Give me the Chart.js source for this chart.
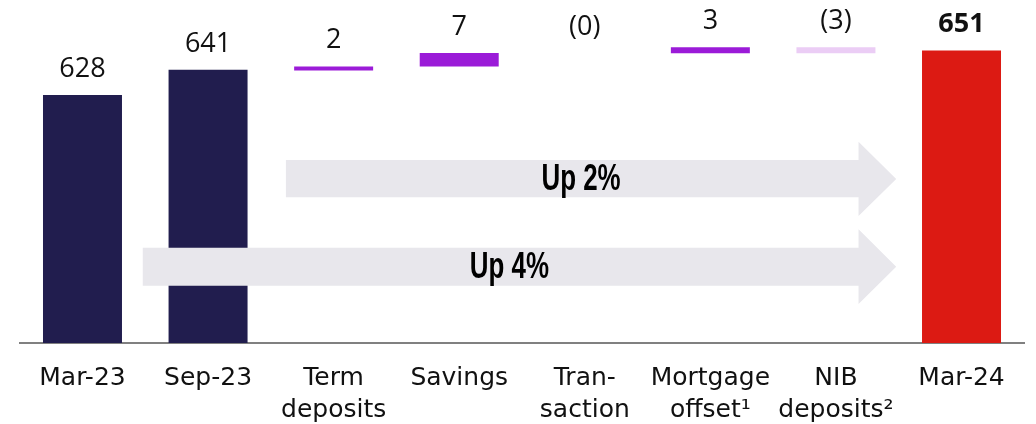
<!DOCTYPE html>
<html>
<head>
<meta charset="utf-8">
<script src="https://cdn.jsdelivr.net/npm/chart.js@4"></script>
<style>
  html, body { margin: 0; padding: 0; background: #ffffff; }
  #wrap { width: 1036px; height: 424px; }
</style>
</head>
<body>
<div id="wrap"><canvas id="c" width="1036" height="424"></canvas></div>
<script>
// ---- data ----
const categories = [['Mar-23'], ['Sep-23'], ['Term', 'deposits'], ['Savings'], ['Tran-', 'saction'], ['Mortgage', 'offset\u00B9'], ['NIB', 'deposits\u00B2'], ['Mar-24']];
const barStart = [500, 500, 640.6, 642.7, 649.7, 649.6, 652.6, 500];
const barEnd   = [628, 641, 642.7, 649.7, 649.7, 652.6, 649.6, 651];
const valueLabels = ['628', '641', '2', '7', '(0)', '3', '(3)', '651'];
const boldLabel = [false, false, false, false, false, false, false, true];
const barColors = ['#211d4e', '#211d4e', '#9b1bd8', '#9b1bd8', '#9b1bd8', '#9b1bd8', '#ebcdf5', '#dc1a13'];
const arrowTexts = ['Up 2%', 'Up 4%'];

// annotation arrows (x in category index units, y in value units)
const arrows = [
  { x0: 1.62, xHead: 6.18, xTip: 6.48, bodyTop: 594.4, bodyBot: 575.2, headTop: 603.9, headBot: 565.5, textX: 3.97 },
  { x0: 0.48, xHead: 6.18, xTip: 6.48, bodyTop: 549.2, bodyBot: 529.6, headTop: 558.7, headBot: 520.1, textX: 3.40 }
];

const annotationPlugin = {
  id: 'annot',
  afterDatasetsDraw(chart) {
    const ctx = chart.ctx;
    const xs = chart.scales.x, ys = chart.scales.y;
    ctx.save();
    arrows.forEach((a, i) => {
      const x0 = xs.getPixelForValue(a.x0), xh = xs.getPixelForValue(a.xHead), xt = xs.getPixelForValue(a.xTip);
      const bt = ys.getPixelForValue(a.bodyTop), bb = ys.getPixelForValue(a.bodyBot);
      const ht = ys.getPixelForValue(a.headTop), hb = ys.getPixelForValue(a.headBot);
      const cy = (bt + bb) / 2;
      ctx.beginPath();
      ctx.moveTo(x0, bt);
      ctx.lineTo(xh, bt);
      ctx.lineTo(xh, ht);
      ctx.lineTo(xt, (ht + hb) / 2);
      ctx.lineTo(xh, hb);
      ctx.lineTo(xh, bb);
      ctx.lineTo(x0, bb);
      ctx.closePath();
      ctx.fillStyle = '#e8e7ec';
      ctx.fill();
      // text
      const tx = xs.getPixelForValue(a.textX);
      ctx.save();
      ctx.translate(tx, cy);
      ctx.scale(0.7, 1);
      ctx.font = 'bold 37px "Liberation Sans Narrow", "Liberation Sans", sans-serif';
      ctx.fillStyle = '#000000';
      ctx.textAlign = 'center';
      ctx.textBaseline = 'middle';
      ctx.fillText(arrowTexts[i], 0, 1);
      ctx.restore();
    });
    // value labels
    const meta = chart.getDatasetMeta(0);
    meta.data.forEach((bar, i) => {
      const top = ys.getPixelForValue(Math.max(barStart[i], barEnd[i]));
      ctx.font = (boldLabel[i] ? 'bold ' : '') + '27px "Open Sans", sans-serif';
      ctx.fillStyle = '#111111';
      ctx.textAlign = 'center';
      ctx.textBaseline = 'alphabetic';
      ctx.fillText(valueLabels[i], bar.x, top - 18);
    });
    ctx.restore();
  }
};

new Chart(document.getElementById('c'), {
  type: 'bar',
  data: {
    labels: categories,
    datasets: [{
      data: barStart.map((s, i) => [s, barEnd[i]]),
      backgroundColor: barColors,
      borderWidth: 0,
      barPercentage: 0.629,
      categoryPercentage: 1.0
    }]
  },
  options: {
    responsive: false,
    animation: false,
    layout: { padding: { left: 19.7, right: 11.7, top: 13.6, bottom: 0 } },
    plugins: { legend: { display: false }, tooltip: { enabled: false } },
    scales: {
      x: {
        grid: { display: false, drawTicks: false },
        border: { display: true, color: '#808080', width: 2 },
        ticks: {
          color: '#111111',
          padding: 19,
          maxRotation: 0,
          autoSkip: false,
          font: { family: '"DejaVu Sans", sans-serif', size: 25, lineHeight: 1.28 }
        },
        afterFit(scale) { scale.height = 81; }
      },
      y: {
        display: false,
        min: 500,
        max: 670
      }
    }
  },
  plugins: [annotationPlugin]
});
</script>
</body>
</html>
